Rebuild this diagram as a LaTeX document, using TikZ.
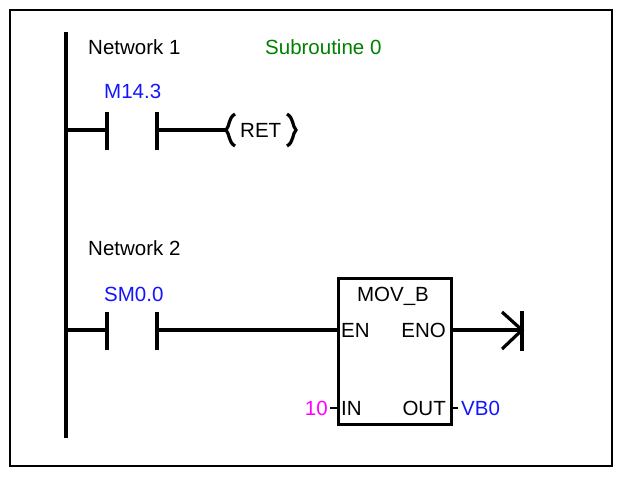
\documentclass[tikz,border=0pt]{standalone}
\usepackage{fontspec}
\setmainfont{Liberation Sans}
\begin{document}
\begin{tikzpicture}[x=1pt,y=-1pt,
  txt/.style={font=\fontsize{20.5}{24}\selectfont,inner sep=0pt},
  w/.style={line width=3.2pt},
  thin/.style={line width=2pt}]
\useasboundingbox (0,0) rectangle (630,480);
\definecolor{blu}{RGB}{20,20,255}
\definecolor{grn}{RGB}{0,128,0}
\definecolor{mag}{RGB}{255,0,255}
\draw[line width=1.2pt] (10,10) rectangle (612,466);
\draw[w] (66,32) coordinate (rt) -- (66,438) coordinate (rb);
% Network 1
\node[txt,anchor=west] (n1) at (88,47) {Network 1};
\node[txt,anchor=west,text=grn] (s0) at (265,47) {Subroutine 0};
\node[txt,anchor=west,text=blu] (m) at (104,91) {M14.3};
\coordinate (r1) at (66,130);
\coordinate (c1a) at (107,130); \coordinate (c1b) at (157,130);
\draw[w] (r1) -- (c1a);
\draw[w] (107,112) -- (107,150);
\draw[w] (157,112) -- (157,150);
\node[txt,anchor=west] (ret) at (240,130) {RET};
\draw[w] (c1b) -- (226,130);
\draw[w] (235,114) .. controls (228,118) and (230,126) .. (226,130) .. controls (230,134) and (228,142) .. (235,146);
\draw[w] (287,114) .. controls (294,118) and (292,126) .. (296,130) .. controls (292,134) and (294,142) .. (287,146);
% Network 2
\node[txt,anchor=west] (n2) at (88,248) {Network 2};
\node[txt,anchor=west,text=blu] (sm) at (104,294) {SM0.0};
\draw[w] (66,330) -- (107,330);
\draw[w] (107,312) -- (107,350);
\draw[w] (157,312) -- (157,350);
\node[draw,line width=3pt,minimum width=113pt,minimum height=146pt,anchor=north west,inner sep=0pt] (box) at (337,277) {};
\draw[w] (157,330) -- (box.west |- 0,330);
\node[txt] (mov) at (393,296) {MOV\_B};
\node[txt,anchor=west] (en) at (341,330) {EN};
\node[txt,anchor=east] (eno) at (446,330) {ENO};
\node[txt,anchor=west] (in) at (341,408) {IN};
\node[txt,anchor=east] (out) at (446,408) {OUT};
\coordinate (coil) at (522,330);
\draw[w] (box.east |- 0,330) -- (coil);
\draw[w] (522,311) -- (522,351);
\draw[w] (502,312) -- (coil) -- (502,349);
\draw[thin] (box.west |- 0,408) -- (330,408);
\node[txt,anchor=east,text=mag] (ten) at (328,408) {10};
\draw[thin] (box.east |- 0,408) -- (458,408);
\node[txt,anchor=west,text=blu] (vb) at (461,408) {VB0};
\end{tikzpicture}
\end{document}
